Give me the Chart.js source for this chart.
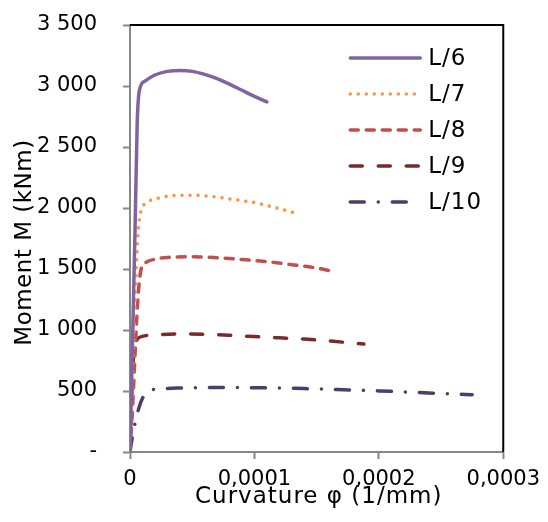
<!DOCTYPE html>
<html>
<head>
<meta charset="utf-8">
<style>
  html, body { margin: 0; padding: 0; background: #fff; }
  #wrap { width: 548px; height: 522px; }
</style>
<script src="https://cdn.jsdelivr.net/npm/chart.js@4/dist/chart.umd.min.js"></script>
</head>
<body>
<div id="wrap"><canvas id="momentChart" width="548" height="522"></canvas></div>
<script>
// ===== datos =====
const seriesLabels = ["L/6", "L/7", "L/8", "L/9", "L/10"];

// curvatura (1/mm) y momento (kNm) por serie
const curvL6 = [0, 0.000004, 0.0000058, 0.0000075, 0.000012, 0.00002, 0.00003, 0.00004, 0.00005, 0.00006, 0.00007, 0.00008, 0.00009, 0.0001, 0.00011];
const momL6  = [0, 1800, 2700, 2960, 3040, 3090, 3120, 3128, 3120, 3095, 3060, 3015, 2965, 2915, 2870];

const curvL7 = [0, 0.000004, 0.0000065, 0.0000085, 0.000014, 0.000025, 0.00004, 0.00005, 0.00006, 0.00007, 0.00008, 0.00009, 0.0001, 0.00011, 0.00012, 0.000134];
const momL7  = [0, 1200, 1800, 1960, 2045, 2085, 2105, 2105, 2100, 2090, 2075, 2060, 2045, 2020, 1995, 1955];

const curvL8 = [0, 0.000002, 0.0000045, 0.0000065, 0.000009, 0.000013, 0.00002, 0.00003, 0.00005, 0.00007, 0.00009, 0.00011, 0.00013, 0.00015, 0.000163];
const momL8  = [0, 350, 900, 1280, 1500, 1555, 1580, 1595, 1600, 1592, 1578, 1560, 1535, 1508, 1480];

const curvL9 = [0, 0.000001, 0.000002, 0.0000035, 0.000006, 0.00001, 0.00002, 0.00004, 0.00006, 0.00008, 0.0001, 0.00012, 0.00014, 0.00016, 0.000188];
const momL9  = [0, 300, 650, 850, 925, 948, 960, 967, 965, 957, 946, 936, 926, 910, 885];

const curvL10 = [0, 0.000002, 0.000006, 0.00001, 0.000015, 0.000025, 0.00004, 0.00006, 0.00008, 0.0001, 0.00012, 0.00014, 0.00016, 0.00018, 0.0002, 0.00022, 0.00024, 0.000275];
const momL10  = [0, 130, 320, 440, 500, 518, 525, 528, 529, 527, 524, 520, 514, 508, 501, 493, 484, 469];

const xTicks = [0, 0.0001, 0.0002, 0.0003];
const yTicks = [0, 500, 1000, 1500, 2000, 2500, 3000, 3500];

const xTitle = "Curvature φ (1/mm)";
const yTitle = "Moment M (kNm)";

const FONT = "'DejaVu Sans', Verdana, sans-serif";

function toPoints(xs, ys) {
  return xs.map((x, i) => ({ x: x, y: ys[i] }));
}

// estilos de cada serie
const styles = [
  { color: "#8064A2", dash: [] },
  { color: "#F79646", dash: [0.01, 8] },
  { color: "#C0504D", dash: [8, 8] },
  { color: "#772C2A", dash: [12, 16] },
  { color: "#4E3D6B", dash: [14, 14, 0.01, 14] }
];

const allData = [
  toPoints(curvL6, momL6),
  toPoints(curvL7, momL7),
  toPoints(curvL8, momL8),
  toPoints(curvL9, momL9),
  toPoints(curvL10, momL10)
];

const datasets = allData.map((pts, i) => ({
  label: seriesLabels[i],
  data: pts,
  showLine: true,
  borderColor: styles[i].color,
  backgroundColor: styles[i].color,
  borderWidth: 3.5,
  borderDash: styles[i].dash,
  borderCapStyle: "round",
  borderJoinStyle: "round",
  pointRadius: 0,
  cubicInterpolationMode: "monotone",
  fill: false
}));

// ===== marco, leyenda y titulos de ejes =====
const decorPlugin = {
  id: "decor",
  beforeDatasetsDraw(chart) {
    const { ctx, chartArea } = chart;
    ctx.save();
    ctx.strokeStyle = "#000";
    ctx.lineWidth = 2;
    ctx.beginPath();
    ctx.moveTo(chartArea.left, chartArea.top);
    ctx.lineTo(chartArea.right, chartArea.top);
    ctx.lineTo(chartArea.right, chartArea.bottom);
    ctx.stroke();
    ctx.restore();
  },
  afterDraw(chart) {
    const { ctx, chartArea } = chart;
    ctx.save();

    // leyenda
    const lx0 = chartArea.right - 153;
    const lx1 = lx0 + 70;
    let ly = chartArea.top + 33;
    chart.data.datasets.forEach(ds => {
      ctx.strokeStyle = ds.borderColor;
      ctx.lineWidth = ds.borderWidth;
      ctx.lineCap = "round";
      ctx.setLineDash(ds.borderDash);
      ctx.beginPath();
      ctx.moveTo(lx0, ly);
      ctx.lineTo(lx1, ly);
      ctx.stroke();
      ctx.setLineDash([]);
      ctx.fillStyle = "#000";
      ctx.font = "23px " + FONT;
      ctx.letterSpacing = "1px";
      ctx.textAlign = "left";
      ctx.textBaseline = "middle";
      ctx.fillText(ds.label, lx1 + 8, ly + 1);
      ly += 36;
    });

    // titulo eje x
    ctx.fillStyle = "#000";
    ctx.font = "23px " + FONT;
    ctx.letterSpacing = "1px";
    ctx.textAlign = "left";
    ctx.textBaseline = "middle";
    ctx.fillText(xTitle, chartArea.left + 65, chartArea.bottom + 45);

    // titulo eje y
    ctx.letterSpacing = "0.5px";
    ctx.textAlign = "center";
    ctx.translate(chartArea.left - 105, (chartArea.top + chartArea.bottom) / 2 + 4);
    ctx.rotate(-Math.PI / 2);
    ctx.fillText(yTitle, 0, 0);
    ctx.restore();
  }
};

const ctx = document.getElementById("momentChart").getContext("2d");

new Chart(ctx, {
  type: "scatter",
  data: { datasets: datasets },
  options: {
    responsive: false,
    animation: false,
    devicePixelRatio: 1,
    layout: { padding: { top: 25, right: 42, left: 0, bottom: 0 } },
    plugins: {
      legend: { display: false },
      tooltip: { enabled: false }
    },
    scales: {
      x: {
        type: "linear",
        min: xTicks[0],
        max: xTicks[xTicks.length - 1],
        afterFit(scale) { scale.height = 70; },
        afterBuildTicks(scale) { scale.ticks = xTicks.map(v => ({ value: v })); },
        border: { color: "#868686", width: 2 },
        grid: { drawOnChartArea: false, drawTicks: true, tickLength: 7, tickColor: "#868686", tickWidth: 2 },
        ticks: {
          color: "#000",
          font: { family: FONT, size: 21 },
          padding: 8,
          maxRotation: 0,
          callback: v => (v === 0 ? "0" : v.toFixed(4).replace(".", ","))
        }
      },
      y: {
        type: "linear",
        min: yTicks[0],
        max: yTicks[yTicks.length - 1],
        afterFit(scale) {
          scale.width = 130;
          // el padding de las etiquetas no debe empujar el area hacia abajo
          scale.paddingTop = 12;
          scale.paddingBottom = 12;
        },
        afterBuildTicks(scale) { scale.ticks = yTicks.map(v => ({ value: v })); },
        border: { color: "#868686", width: 2 },
        grid: { drawOnChartArea: false, drawTicks: true, tickLength: 7, tickColor: "#868686", tickWidth: 2 },
        ticks: {
          color: "#000",
          font: { family: FONT, size: 21 },
          padding: 26,
          callback: v => (v === 0 ? "-" : String(v).replace(/\B(?=(\d{3})+(?!\d))/g, " "))
        }
      }
    }
  },
  plugins: [decorPlugin]
});
</script>
</body>
</html>
